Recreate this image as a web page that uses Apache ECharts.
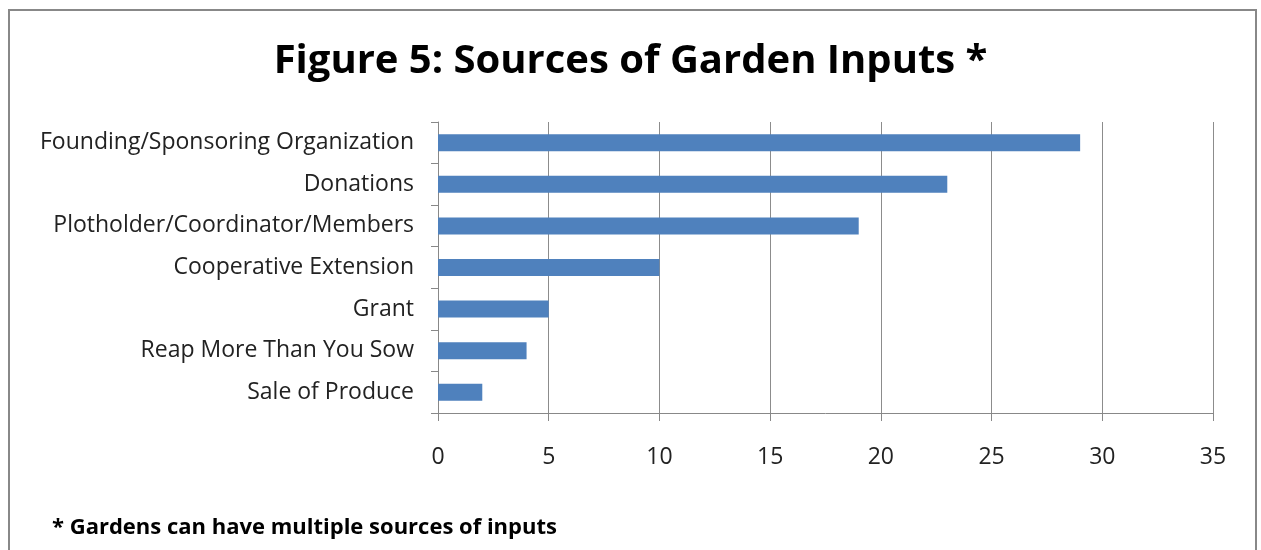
<!DOCTYPE html>
<html>
<head>
<meta charset="utf-8">
<script src="https://cdn.jsdelivr.net/npm/echarts@6/dist/echarts.min.js"></script>
<style>
html,body{margin:0;padding:0;background:#fff;}
#main{width:1261px;height:550px;}
</style>
</head>
<body>
<div id="main"></div>
<script>
const categories = [
  "Founding/Sponsoring Organization",
  "Donations",
  "Plotholder/Coordinator/Members",
  "Cooperative Extension",
  "Grant",
  "Reap More Than You Sow",
  "Sale of Produce"
];
const values = [29, 23, 19, 10, 5, 4, 2];
const xTicks = { min: 0, max: 35, interval: 5 };
const titleText = "Figure 5: Sources of Garden Inputs *";
const footnoteText = "* Gardens can have multiple sources of inputs";

const FONT = "'Open Sans', sans-serif";
const chart = echarts.init(document.getElementById('main'));
chart.setOption({
  animation: false,
  backgroundColor: '#fff',
  title: {
    text: titleText,
    left: 'center',
    top: 37,
    textStyle: { fontFamily: FONT, fontSize: 40, fontWeight: 'bold', color: '#000' }
  },
  graphic: [
    { type: 'rect', shape: { x: 9, y: 10, width: 1247, height: 580 },
      style: { fill: 'none', stroke: '#888', lineWidth: 2 }, silent: true },
    { type: 'text', left: 52, top: 517,
      style: { text: footnoteText, fontFamily: FONT, fontSize: 22, fontWeight: 'bold', fill: '#000' } }
  ],
  grid: { left: 438, right: 48, top: 122, bottom: 137, containLabel: false },
  xAxis: {
    type: 'value',
    min: xTicks.min, max: xTicks.max, interval: xTicks.interval,
    axisLine: { show: true, lineStyle: { color: '#888', width: 1 } },
    axisTick: { show: true, length: 8, lineStyle: { color: '#888' } },
    splitLine: { show: true, lineStyle: { color: '#8c8c8c', width: 1 } },
    axisLabel: { margin: 33, fontFamily: FONT, fontSize: 23, color: '#222' }
  },
  yAxis: {
    type: 'category',
    data: categories,
    inverse: true,
    axisLine: { show: true, lineStyle: { color: '#888', width: 1 } },
    axisTick: { show: true, length: 7, alignWithLabel: false, lineStyle: { color: '#888' } },
    axisLabel: { margin: 24, fontFamily: FONT, fontSize: 23, color: '#222', padding: [4, 0, 0, 0] }
  },
  series: [{
    type: 'bar',
    data: values,
    barWidth: 17,
    itemStyle: { color: '#4F81BD' }
  }]
});
</script>
</body>
</html>
